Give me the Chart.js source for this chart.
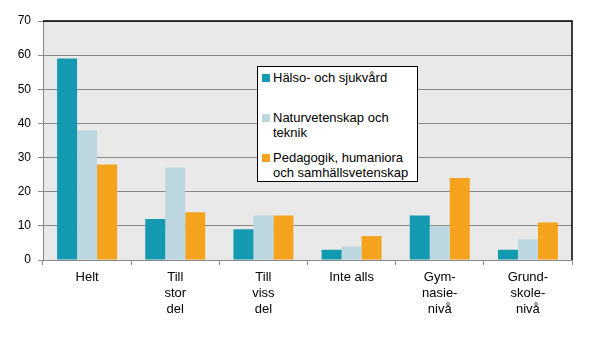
<!DOCTYPE html>
<html>
<head>
<meta charset="utf-8">
<script src="https://cdn.jsdelivr.net/npm/chart.js@4"></script>
<style>
  body { margin: 0; background: #fff; }
  .wrap { position: relative; width: 606px; height: 337px; }
  .legend {
    position: absolute; left: 257px; top: 66px; width: 159px; height: 114px;
    border: 1px solid #000; background: #fff;
    font: 13px "Liberation Sans", Arial, sans-serif; color: #000;
  }
  .legend .item { position: absolute; left: 4px; line-height: 15px; padding-left: 11px; white-space: nowrap; }
  .legend .sw { position: absolute; left: 0; top: 4px; width: 8px; height: 8px; }
</style>
</head>
<body>
<div class="wrap">
  <canvas id="chart" width="606" height="337"></canvas>
  <div class="legend js-legend"></div>
</div>
<script>
const categories = [['Helt'], ['Till', 'stor', 'del'], ['Till', 'viss', 'del'], ['Inte alls'], ['Gym-', 'nasie-', 'nivå'], ['Grund-', 'skole-', 'nivå']];
const seriesNames = ['Hälso- och sjukvård', 'Naturvetenskap och teknik', 'Pedagogik, humaniora och samhällsvetenskap'];
const halsoValues = [59, 12, 9, 3, 13, 3];
const naturValues = [38, 27, 13, 4, 10, 6];
const pedagogikValues = [28, 14, 13, 7, 24, 11];
const yTicks = [0, 10, 20, 30, 40, 50, 60, 70];

const colors = ['#139AB1', '#BDD7E0', '#F5A31C'];
const legendLines = [['Hälso- och sjukvård'], ['Naturvetenskap och', 'teknik'], ['Pedagogik, humaniora', 'och samhällsvetenskap']];
const legendTops = [3, 43, 83];

// legend as html box inside the plot
const legendEl = document.querySelector('.js-legend');
legendLines.forEach((lines, i) => {
  const item = document.createElement('div');
  item.className = 'item';
  item.style.top = legendTops[i] + 'px';
  item.innerHTML = '<span class="sw" style="background:' + colors[i] + '"></span>' + lines.join('<br>');
  legendEl.appendChild(item);
});

const plotFrame = {
  id: 'plotFrame',
  beforeDraw(chart) {
    const { ctx, chartArea: a } = chart;
    ctx.save();
    ctx.fillStyle = '#E9E9E9';
    ctx.fillRect(a.left, a.top, a.right - a.left, a.bottom - a.top);
    ctx.restore();
  },
  afterDraw(chart) {
    const { ctx, chartArea: a } = chart;
    ctx.save();
    ctx.strokeStyle = '#000';
    ctx.lineWidth = 1.5;
    ctx.beginPath();
    ctx.moveTo(a.left, a.top);
    ctx.lineTo(a.right, a.top);
    ctx.lineTo(a.right, a.bottom);
    ctx.stroke();
    ctx.restore();
  }
};

Chart.defaults.font.family = '"Liberation Sans", Arial, sans-serif';
Chart.defaults.font.size = 12;
Chart.defaults.color = '#000';

new Chart(document.getElementById('chart'), {
  type: 'bar',
  data: {
    labels: categories,
    datasets: [
      { label: seriesNames[0], data: halsoValues, backgroundColor: colors[0] },
      { label: seriesNames[1], data: naturValues, backgroundColor: colors[1] },
      { label: seriesNames[2], data: pedagogikValues, backgroundColor: colors[2] }
    ]
  },
  options: {
    responsive: false,
    animation: false,
    datasets: { bar: { barPercentage: 1, categoryPercentage: 0.68 } },
    layout: { padding: { left: 0, top: 21, right: 34, bottom: 0 } },
    plugins: { legend: { display: false }, tooltip: { enabled: false } },
    scales: {
      x: {
        grid: { offset: true, drawOnChartArea: false, color: '#888', tickLength: 5 },
        border: { color: '#888' },
        ticks: { padding: 5, maxRotation: 0, autoSkip: false, font: { size: 13 }, lineHeight: 1.15 },
        afterFit: (s) => { s.height = 77; }
      },
      y: {
        min: 0,
        max: 70,
        afterBuildTicks: (s) => { s.ticks = yTicks.map((v) => ({ value: v })); },
        grid: { color: '#888', tickLength: 5 },
        border: { color: '#888' },
        ticks: { padding: 7 },
        afterFit: (s) => { s.width = 43; }
      }
    }
  },
  plugins: [plotFrame]
});
</script>
</body>
</html>
